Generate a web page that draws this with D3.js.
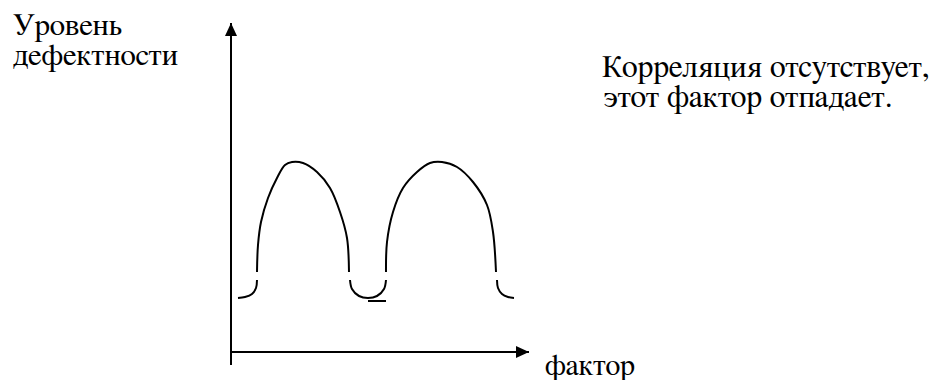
<!DOCTYPE html>
<html>
<head>
<meta charset="utf-8">
<script src="https://cdn.jsdelivr.net/npm/d3@7"></script>
<style>
  body { margin: 0; background: #fff; }
  svg text { font-family: 'FreeSerif', 'DejaVu Serif', 'Liberation Serif', serif; fill: #000; }
</style>
</head>
<body>
<div id="chart-area"></div>
<script>
// factor / defect level, in chart units (axis origin = 0,0)
var arch1Factor = [26, 27, 30, 37, 46, 54, 61, 72, 86, 99, 109, 116, 118];
var arch1Level  = [80, 107, 130, 154, 174, 187, 190, 189, 180, 164, 140, 114, 80];
var arch2Factor = [155, 156, 162, 172, 186, 199, 211, 226, 242, 256, 262, 265];
var arch2Level  = [80, 110, 140, 164, 180, 189, 190, 185, 170, 147, 120, 80];
var hookLeftFactor  = [26, 25, 21, 14, 7];
var hookLeftLevel   = [72, 64, 58, 55, 54];
var hookMidFactor   = [119, 121, 128, 137, 146, 153, 155];
var hookMidLevel    = [72, 63, 56, 54, 56, 63, 72];
var hookRightFactor = [266, 267, 271, 277, 283];
var hookRightLevel  = [72, 64, 58, 55, 54];
var underFactor = [137, 155];
var underLevel  = [51, 51];

var yLabelLines = ["Уровень", "дефектности"];
var xLabel = "фактор";
var noteLines = ["Корреляция отсутствует,", "этот фактор отпадает."];

var width = 933;
var height = 380;

var svg = d3.select("#chart-area").append("svg")
    .attr("width", width)
    .attr("height", height);

var x = d3.scaleLinear()
    .domain([0, 298])
    .range([231, 529]);
var y = d3.scaleLinear()
    .domain([0, 329])
    .range([352, 23]);

var defs = svg.append("defs");
defs.append("marker")
    .attr("id", "arrow")
    .attr("viewBox", "0 0 13 12")
    .attr("refX", 13)
    .attr("refY", 6)
    .attr("markerWidth", 13)
    .attr("markerHeight", 12)
    .attr("markerUnits", "userSpaceOnUse")
    .attr("orient", "auto")
  .append("path")
    .attr("d", "M0,0L13,6L0,12Z")
    .attr("fill", "#000");

// axes
svg.append("line")
    .attr("x1", x(0)).attr("y1", y(-13))
    .attr("x2", x(0)).attr("y2", y(329))
    .attr("stroke", "#000")
    .attr("stroke-width", 2)
    .attr("marker-end", "url(#arrow)");
svg.append("line")
    .attr("x1", x(-1)).attr("y1", y(0))
    .attr("x2", x(298)).attr("y2", y(0))
    .attr("stroke", "#000")
    .attr("stroke-width", 2)
    .attr("marker-end", "url(#arrow)");

var line = d3.line()
    .x((d) => { return x(d[0]); })
    .y((d) => { return y(d[1]); })
    .curve(d3.curveCatmullRom);

var pieces = [
  [arch1Factor, arch1Level],
  [arch2Factor, arch2Level],
  [hookLeftFactor, hookLeftLevel],
  [hookMidFactor, hookMidLevel],
  [hookRightFactor, hookRightLevel],
  [underFactor, underLevel]
];

svg.selectAll("path.curve")
    .data(pieces)
    .enter()
    .append("path")
    .attr("class", "curve")
    .attr("d", (p) => { return line(d3.zip(p[0], p[1])); })
    .attr("fill", "none")
    .attr("stroke", "#000")
    .attr("stroke-width", 2);

// labels
svg.selectAll("text.ylab")
    .data(yLabelLines)
    .enter()
    .append("text")
    .attr("class", "ylab")
    .attr("x", 13)
    .attr("y", (d, i) => { return 35 + i * 30; })
    .style("font-size", "31px")
    .text((d) => { return d; });

svg.append("text")
    .attr("x", 545)
    .attr("y", 375)
    .style("font-size", "30px")
    .text(xLabel);

svg.selectAll("text.note")
    .data(noteLines)
    .enter()
    .append("text")
    .attr("class", "note")
    .attr("x", (d, i) => { return i === 0 ? 602 : 604; })
    .attr("y", (d, i) => { return 77 + i * 30; })
    .style("font-size", "31.7px")
    .text((d) => { return d; });
</script>
</body>
</html>
